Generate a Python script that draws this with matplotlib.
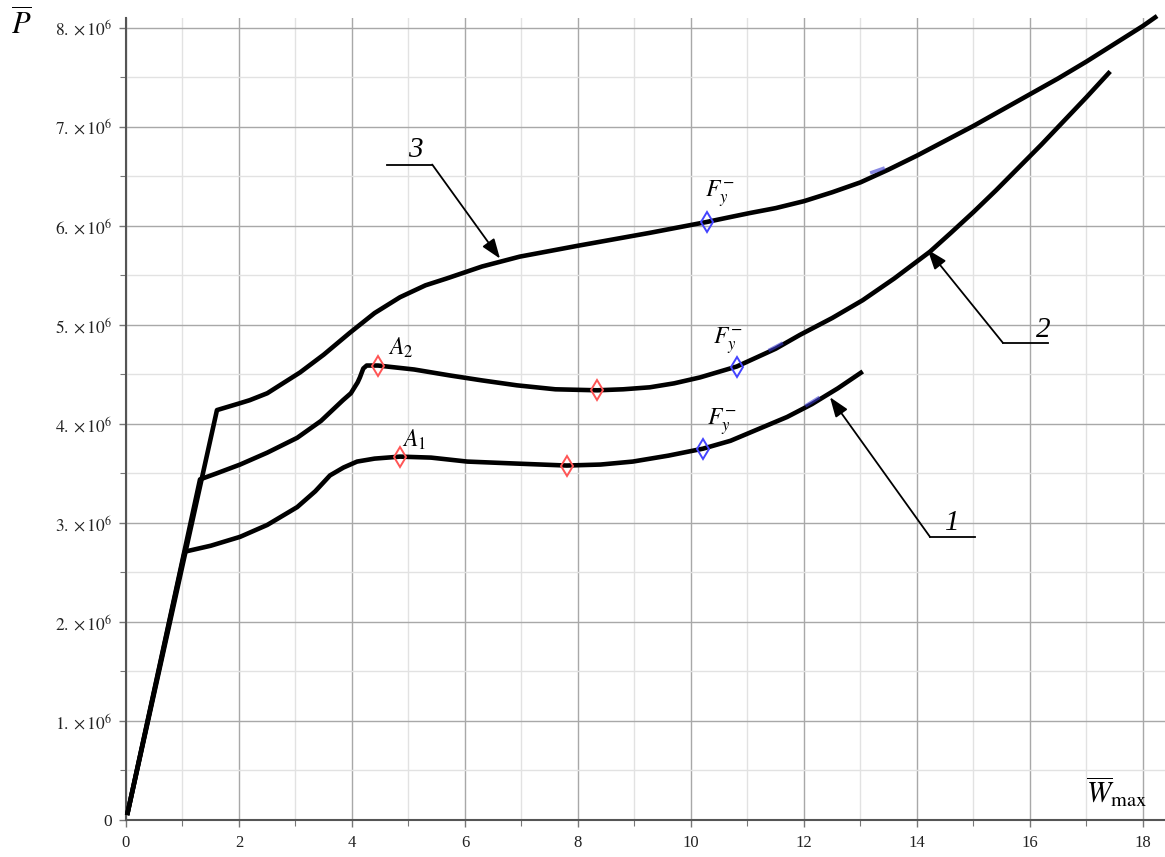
import numpy as np
import matplotlib
matplotlib.use('Agg')
import matplotlib.pyplot as plt
from matplotlib.ticker import MultipleLocator, FuncFormatter

plt.rcParams['font.family'] = 'serif'
plt.rcParams['font.serif'] = ['Liberation Serif', 'DejaVu Serif']
plt.rcParams['mathtext.fontset'] = 'stix'

# load curves: W_max vs P (P in units of 1e6)
w1 = [0.02, 1.04, 1.5, 2.02, 2.5, 3.03, 3.35, 3.61, 3.85, 4.09, 4.4, 4.85, 5.4, 6.04,
      6.9, 7.8, 8.4, 8.97, 9.6, 10.21, 10.7, 11.2, 11.7, 12.14, 12.6, 13.04]
p1 = [0.05, 2.71, 2.77, 2.86, 2.98, 3.16, 3.32, 3.48, 3.56, 3.62, 3.65, 3.67, 3.66, 3.62,
      3.60, 3.58, 3.59, 3.62, 3.68, 3.75, 3.83, 3.95, 4.07, 4.20, 4.36, 4.53]

w2 = [0.02, 1.31, 1.6, 2.02, 2.5, 3.03, 3.45, 3.84, 3.98, 4.1, 4.14, 4.2, 4.26, 4.46,
      5.1, 5.73, 6.3, 6.92, 7.6, 8.34, 8.8, 9.27, 9.7, 10.16, 10.81, 11.5, 11.93, 12.5,
      13.04, 13.6, 14.23, 14.6, 15.0, 15.4, 15.8, 16.2, 16.65, 17.0, 17.42]
p2 = [0.05, 3.44, 3.50, 3.59, 3.71, 3.86, 4.03, 4.24, 4.31, 4.42, 4.47, 4.56, 4.59, 4.59,
      4.55, 4.49, 4.44, 4.39, 4.35, 4.34, 4.35, 4.37, 4.41, 4.47, 4.58, 4.76, 4.90, 5.07,
      5.25, 5.47, 5.74, 5.93, 6.14, 6.36, 6.59, 6.82, 7.09, 7.30, 7.56]

w3 = [0.02, 1.61, 2.02, 2.19, 2.5, 3.08, 3.5, 3.96, 4.4, 4.85, 5.3, 5.68, 6.3, 6.97,
      8.0, 9.27, 10.28, 10.7, 11.04, 11.5, 12.0, 12.5, 13.0, 13.5, 14.0, 14.5, 15.0,
      15.5, 16.0, 16.5, 17.0, 17.5, 18.0, 18.25]
p3 = [0.05, 4.14, 4.21, 4.24, 4.31, 4.52, 4.70, 4.92, 5.12, 5.28, 5.40, 5.47, 5.59, 5.69,
      5.80, 5.93, 6.04, 6.09, 6.13, 6.18, 6.25, 6.34, 6.44, 6.57, 6.71, 6.86, 7.01,
      7.17, 7.33, 7.49, 7.66, 7.84, 8.02, 8.12]

# special points: A (red) and F_y^- (blue)
red_w = [4.85, 7.8, 4.46, 8.34]
red_p = [3.67, 3.58, 4.59, 4.34]
blue_w = [10.21, 10.81, 10.28]
blue_p = [3.75, 4.58, 6.04]

fig = plt.figure(figsize=(11.65, 8.57), dpi=100)
ax = fig.add_axes([126 / 1165, 37 / 857, 1039 / 1165, 802 / 857])

for w, p in [(w1, p1), (w2, p2), (w3, p3)]:
    ax.plot(w, np.array(p) * 1e6, color='black', lw=3.3, solid_capstyle='butt',
            solid_joinstyle='round', clip_on=False, zorder=3)

# small blue ticks partly hidden under the curves
for wb, pb in [((11.4, 11.6), (4.73, 4.79)), ((12.05, 12.25), (4.17, 4.24)),
               ((13.2, 13.4), (6.52, 6.56))]:
    ax.plot(wb, np.array(pb) * 1e6 + 0.02e6, color='#3b3bd0', lw=2.5, alpha=0.6, zorder=4)

ax.plot(red_w, np.array(red_p) * 1e6, ls='none', marker='d', ms=10, mfc='none',
        mec='#ff5555', mew=1.4, zorder=5)
ax.plot(blue_w, np.array(blue_p) * 1e6, ls='none', marker='d', ms=10, mfc='none',
        mec='#4444ff', mew=1.4, zorder=5)

ax.set_xlim(0, 18.39)
ax.set_ylim(0, 8.1e6)

ax.xaxis.set_major_locator(MultipleLocator(2))
ax.xaxis.set_minor_locator(MultipleLocator(1))
ax.yaxis.set_major_locator(MultipleLocator(1e6))
ax.yaxis.set_minor_locator(MultipleLocator(0.5e6))


def fmt_p(v, pos):
    if v == 0:
        return '0'
    return r'$%d.\times10^{6}$' % round(v / 1e6)


ax.yaxis.set_major_formatter(FuncFormatter(fmt_p))
ax.grid(which='major', color='#a8a8a8', lw=1.0)
ax.grid(which='minor', color='#e2e2e2', lw=1.0)
ax.set_axisbelow(True)

for s in ['top', 'right']:
    ax.spines[s].set_visible(False)
for s in ['left', 'bottom']:
    ax.spines[s].set_color('#555555')
    ax.spines[s].set_linewidth(1.5)

ax.tick_params(which='both', direction='out', color='#777777', labelcolor='#222222')
ax.tick_params(which='major', length=5, width=1.0)
ax.tick_params(which='minor', length=4, width=0.8)
ax.tick_params(axis='x', labelsize=12, pad=6)
ax.tick_params(axis='y', labelsize=12.5, pad=5)

# axis titles
fig.text(21 / 1165, 1 - 25 / 857, r'$\overline{P}$', fontsize=22, ha='center', va='center')
fig.text(1117 / 1165, 1 - 792 / 857, r'$\overline{W}_{\mathrm{max}}$', fontsize=21,
         ha='center', va='center')

# point labels
ax.text(4.64, 4.70e6, r'$A_2$', fontsize=17, ha='left', va='baseline')
ax.text(4.89, 3.77e6, r'$A_1$', fontsize=17, ha='left', va='baseline')
ax.text(10.25, 6.29e6, r'$F_y^{-}$', fontsize=17, ha='left', va='baseline')
ax.text(10.39, 4.80e6, r'$F_y^{-}$', fontsize=17, ha='left', va='baseline')
ax.text(10.28, 3.99e6, r'$F_y^{-}$', fontsize=17, ha='left', va='baseline')

# curve leader lines
leaders = [
    ('3', (4.62, 5.42), 6.62e6, (6.62, 5.67e6), (5.12, 6.77e6)),
    ('2', (15.52, 16.32), 4.82e6, (14.19, 5.76e6), (16.23, 4.95e6)),
    ('1', (14.23, 15.03), 2.86e6, (12.46, 4.27e6), (14.62, 3.00e6)),
]
for lab, (xa, xb), yl, tip, tpos in leaders:
    ax.plot([xa, xb], [yl, yl], color='black', lw=1.3, zorder=6)
    start = (xb, yl) if lab == '3' else (xa, yl)
    ax.annotate('', xy=tip, xytext=start,
                arrowprops=dict(arrowstyle='-|>,head_length=0.6,head_width=0.22',
                                mutation_scale=20, lw=1.3, color='black',
                                shrinkA=0, shrinkB=0), zorder=6)
    ax.text(tpos[0], tpos[1], lab, fontsize=21, style='italic', ha='center', va='center')

fig.savefig('out.png', dpi=100)
